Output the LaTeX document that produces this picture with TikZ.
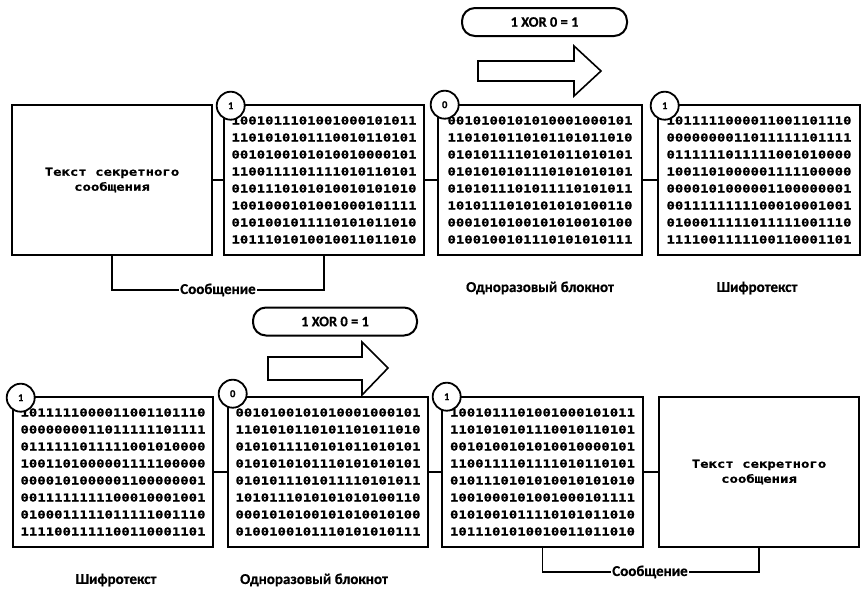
\documentclass[tikz,border=0pt]{standalone}
\usepackage{fontspec}
\setmainfont{Carlito}[BoldFeatures={FakeBold=0.6}]
\newfontfamily\monobin[FakeStretch=1.27,BoldFeatures={FakeBold=0.8}]{DejaVu Sans Mono}
\begin{document}
\begin{tikzpicture}[x=1pt,y=-1pt,
  binbox/.style={draw, line width=2.6pt, minimum width=200pt, minimum height=150pt,
    inner sep=0pt, align=left, font={\monobin\bfseries\fontsize{11}{17}\selectfont}},
  plainbox/.style={draw, line width=2.2pt, minimum width=200pt, minimum height=150pt,
    inner sep=0pt, align=center, font={\monobin\bfseries\fontsize{11}{15}\selectfont}},
  marker/.style={circle, draw, line width=1.8pt, fill=white, minimum size=28pt,
    inner sep=0pt, font={\bfseries\fontsize{10.5}{10.5}\selectfont}},
  link/.style={line width=1.8pt},
  caption/.style={font={\bfseries\fontsize{15}{15}\selectfont}, inner sep=1pt},
  bracketlabel/.style={font={\bfseries\fontsize{15}{15}\selectfont}, fill=white, inner sep=1pt},
  xorbox/.style={draw, line width=2pt, rounded corners=13pt, minimum height=28pt,
    inner sep=0pt, font={\bfseries\fontsize{14.5}{14.5}\selectfont}},
  bigarrow/.style={draw, line width=1.6pt, line join=miter, fill=white}
]
\useasboundingbox (0,0) rectangle (864,590);

% ---------------- encryption row ----------------
\node[plainbox] (plainA) at (112,180) {Текст секретного\\сообщения};
\node[binbox] (msgA) at (324,180) {%
1001011101001000101011\\
1101010101110010110101\\
0010100101010010000101\\
1100111101111010110101\\
0101110101010010101010\\
1001000101001000101111\\
0101001011110101011010\\
1011101010010011011010};
\node[binbox, minimum width=204pt] (padA) at (540,180) {%
0010100101010001000101\\
1101010110101101011010\\
0101011110101011010101\\
0101010101110101010101\\
0101011101011110101011\\
1010111010101010100110\\
0001010100101010010100\\
0100100101110101010111};
\node[binbox, minimum width=202pt] (cipherA) at (759,180) {%
1011111000011001101110\\
0000000011011111101111\\
0111111011111001010000\\
1001101000001111100000\\
0000101000001100000001\\
0011111111100010001001\\
0100011111011111001110\\
1111001111100110001101};

\draw[link] (plainA.east) -- (msgA.west);
\draw[link] (msgA.east) -- (padA.west);
\draw[link] (padA.east) -- (cipherA.west);

\node[marker] (bitA1) at ([xshift=8pt,yshift=-2pt]msgA.north west) {1};
\node[marker] (bitA2) at ([xshift=8pt,yshift=-1pt]padA.north west) {0};
\node[marker] (bitA3) at ([xshift=8pt,yshift=-2pt]cipherA.north west) {1};

\coordinate (brA1) at (112,290);
\coordinate (brA2) at (324,290);
\draw[link] (plainA.south) -- (brA1) -- (brA2) -- (msgA.south);
\node[bracketlabel] (msgLabelA) at (218,290) {Сообщение};

\node[caption] (padLabelA) at (540,288) {Одноразовый блокнот};
\node[caption] (cipherLabelA) at (757,288) {Шифротекст};

\node[xorbox, minimum width=165pt] (xorA) at (544.5,22) {1 XOR 0 = 1};
\draw[bigarrow] (478,61) -- (574,61) -- (574,46) -- (601,71) -- (574,96)
  -- (574,81) -- (478,81) -- cycle;

% ---------------- decryption row ----------------
\node[binbox] (cipherB) at (113,472) {%
1011111000011001101110\\
0000000011011111101111\\
0111111011111001010000\\
1001101000001111100000\\
0000101000001100000001\\
0011111111100010001001\\
0100011111011111001110\\
1111001111100110001101};
\node[binbox] (padB) at (328,472) {%
0010100101010001000101\\
1101010110101101011010\\
0101011110101011010101\\
0101010101110101010101\\
0101011101011110101011\\
1010111010101010100110\\
0001010100101010010100\\
0100100101110101010111};
\node[binbox, minimum width=201pt] (msgB) at (542.5,472) {%
1001011101001000101011\\
1101010101110010110101\\
0010100101010010000101\\
1100111101111010110101\\
0101110101010010101010\\
1001000101001000101111\\
0101001011110101011010\\
1011101010010011011010};
\node[plainbox] (plainB) at (759,472) {Текст секретного\\сообщения};

\draw[link] (cipherB.east) -- (padB.west);
\draw[link] (padB.east) -- (msgB.west);
\draw[link] (msgB.east) -- (plainB.west);

\node[marker] (bitB1) at ([xshift=9pt,yshift=-2pt]cipherB.north west) {1};
\node[marker] (bitB2) at ([xshift=6pt,yshift=2pt]padB.north west) {0};
\node[marker] (bitB3) at ([xshift=6pt,yshift=-1pt]msgB.north west) {1};

\coordinate (brB1) at (542.5,572);
\coordinate (brB2) at (759,572);
\draw[link] (msgB.south) -- (brB1) -- (brB2) -- (plainB.south);
\node[bracketlabel] (msgLabelB) at (650,572) {Сообщение};

\node[caption] (cipherLabelB) at (116,580) {Шифротекст};
\node[caption] (padLabelB) at (314,580) {Одноразовый блокнот};

\node[xorbox, minimum width=164pt] (xorB) at (335,321.5) {1 XOR 0 = 1};
\draw[bigarrow] (268,357) -- (362,357) -- (362,342) -- (388,368) -- (362,395)
  -- (362,380) -- (268,380) -- cycle;
\end{tikzpicture}
\end{document}
